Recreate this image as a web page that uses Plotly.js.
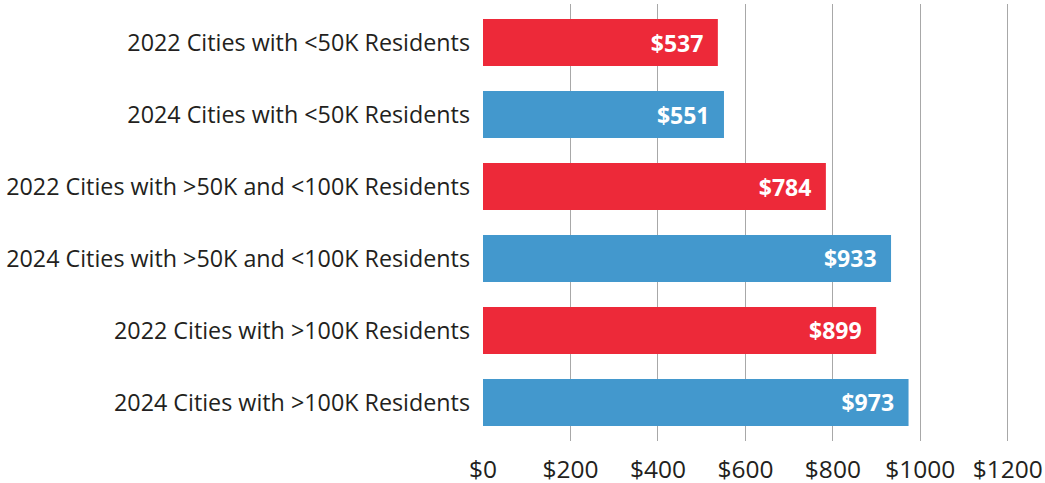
<!DOCTYPE html>
<html>
<head>
<meta charset="utf-8">
<script src="https://cdn.plot.ly/plotly-3.0.1.min.js"></script>
<style>
  html, body { margin: 0; padding: 0; background: #fff; }
  #myDiv { width: 1045px; height: 483px; }
</style>
</head>
<body>
<div id="myDiv"></div>
<script>
// chart values
let categories = [
    '2022 Cities with <50K Residents',
    '2024 Cities with <50K Residents',
    '2022 Cities with >50K and <100K Residents',
    '2024 Cities with >50K and <100K Residents',
    '2022 Cities with >100K Residents',
    '2024 Cities with >100K Residents'
];
let costs = [537, 551, 784, 933, 899, 973];
let barColors = ['#ed2939', '#4398cd', '#ed2939', '#4398cd', '#ed2939', '#4398cd'];
let tickValues = [0, 200, 400, 600, 800, 1000, 1200];
let tickLabels = tickValues.map(v => '$' + v);

let bars = {
    type: 'bar',
    orientation: 'h',
    x: costs,
    y: categories,
    marker: { color: barColors },
    text: costs.map(v => '$' + v + '\u2002'),
    textposition: 'inside',
    insidetextanchor: 'end',
    textfont: { family: 'Open Sans', size: 23, color: '#ffffff', weight: 700 },
    hoverinfo: 'none'
};

let layout = {
    width: 1045,
    height: 483,
    margin: { l: 483, r: 35, t: 4, b: 42 },
    paper_bgcolor: '#ffffff',
    plot_bgcolor: '#ffffff',
    font: { family: 'Open Sans', color: '#231f20', size: 23 },
    showlegend: false,
    bargap: 0.35,
    xaxis: {
        range: [0, 1205],
        tickvals: tickValues,
        ticktext: tickLabels,
        showgrid: true,
        gridcolor: '#a8a8a8',
        gridwidth: 1,
        zeroline: false,
        showline: false,
        ticks: '',
        ticklabelstandoff: 11,
        tickfont: { size: 24.5 },
        fixedrange: true
    },
    yaxis: {
        type: 'category',
        categoryorder: 'array',
        categoryarray: categories,
        range: [5.535, -0.535],
        showgrid: false,
        zeroline: false,
        showline: false,
        ticks: '',
        ticklabelstandoff: 12,
        tickfont: { size: 23.3 },
        fixedrange: true
    }
};

Plotly.newPlot('myDiv', [bars], layout, { displayModeBar: false, staticPlot: true });
</script>
</body>
</html>
